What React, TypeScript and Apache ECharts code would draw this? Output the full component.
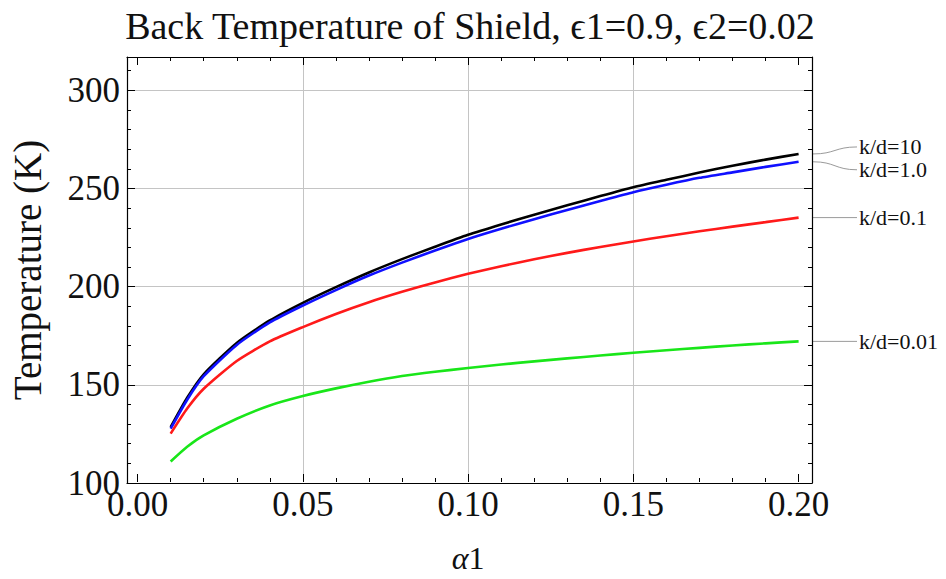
import React, { useEffect, useRef } from 'react';
import * as echarts from 'echarts';

// α1 sample positions and temperatures (K)
const alpha = [0.01, 0.015, 0.02, 0.03, 0.04, 0.05, 0.06, 0.07, 0.08, 0.09, 0.1, 0.11, 0.12, 0.13, 0.14, 0.15, 0.16, 0.17, 0.18, 0.19, 0.2];
const kd10 = [128, 143, 155, 171, 182.5, 191.5, 199.5, 207, 213.8, 220.1, 226.2, 231.5, 236.5, 241.3, 246, 250.5, 254.3, 258, 261.5, 264.6, 267.5];
const kd1 = [127.2, 142, 154, 170, 181.5, 190.1, 198, 205.4, 212, 218.2, 224.1, 229.3, 234.2, 238.9, 243.5, 248, 251.8, 255.3, 258.1, 260.9, 263.5];
const kd01 = [124.7, 137.5, 147.6, 161.8, 171.8, 179.1, 185.8, 191.8, 197.1, 201.9, 206.3, 210.2, 213.7, 217, 220, 222.8, 225.5, 228, 230.4, 232.7, 235];
const kd001 = [110.5, 118, 123.8, 132.3, 139.1, 143.9, 147.8, 151.2, 154.1, 156.3, 158.2, 160, 161.6, 163.1, 164.6, 166, 167.3, 168.5, 169.7, 170.8, 171.8];

const seriesNames = ['k/d=10', 'k/d=1.0', 'k/d=0.1', 'k/d=0.01'];
const seriesColors = ['#000000', '#1010ff', '#ff1a1a', '#19e619'];
const seriesValues = [kd10, kd1, kd01, kd001];
const labelOffsets = [-7, 8, 0, 0];

const X_MIN = 0;
const X_MAX = 0.2;
const Y_MIN = 100;
const Y_MAX = 317;

const FONT = "'Liberation Serif', 'DejaVu Serif', serif";
const TXT = '#111111';

export default function App() {
  const ref = useRef<HTMLDivElement>(null);
  useEffect(() => {
    if (!ref.current) return;
    document.body.style.margin = '0';
    const chart = echarts.init(ref.current, null, { renderer: 'svg' });
    const grids = [
      { left: 137.6, right: 147.4, top: 57, bottom: 96 },
      { left: 123, right: 134, top: 57, bottom: 96 },
    ];
    const series = seriesValues.map((vals, i) => ({
      type: 'line',
      name: seriesNames[i],
      xAxisIndex: 0,
      yAxisIndex: 0,
      data: alpha.map((a, j) => [a, vals[j]]),
      smooth: 0.2,
      showSymbol: false,
      lineStyle: { color: seriesColors[i], width: 2.6 },
      itemStyle: { color: seriesColors[i] },
      z: 3 + i,
    }));
    chart.setOption({
      animation: false,
      backgroundColor: '#ffffff',
      title: {
        text: 'Back Temperature of Shield, ϵ1=0.9, ϵ2=0.02',
        left: 465,
        textAlign: 'center',
        top: 2,
        textStyle: { fontFamily: FONT, fontSize: 38, fontWeight: 'normal', color: TXT },
      },
      grid: grids,
      xAxis: [
        {
          gridIndex: 0,
          type: 'value',
          min: X_MIN,
          max: X_MAX,
          interval: 0.05,
          position: 'bottom',
          axisLine: { show: false },
          axisTick: { show: true, inside: true, length: 8, lineStyle: { color: '#000', width: 1 } },
          minorTick: { show: true, splitNumber: 5, length: 4, lineStyle: { color: '#000', width: 1 } },
          axisLabel: {
            fontFamily: FONT,
            fontSize: 35,
            color: TXT,
            margin: 5,
            formatter: (v: number) => v.toFixed(2),
          },
          splitLine: { show: true, showMinLine: false, showMaxLine: false, lineStyle: { color: '#c4c4c4', width: 1 } },
          name: '{a|α}1',
          nameLocation: 'middle',
          nameGap: 60,
          nameTextStyle: {
            fontFamily: FONT,
            fontSize: 32,
            color: TXT,
            rich: { a: { fontFamily: FONT, fontSize: 32, fontStyle: 'italic', color: TXT } },
          },
        },
        {
          gridIndex: 0,
          type: 'value',
          min: X_MIN,
          max: X_MAX,
          interval: 0.05,
          position: 'top',
          axisLine: { show: false },
          axisTick: { show: true, inside: true, length: 8, lineStyle: { color: '#000', width: 1 } },
          minorTick: { show: true, splitNumber: 5, length: 4, lineStyle: { color: '#000', width: 1 } },
          axisLabel: { show: false },
          splitLine: { show: false },
        },
        {
          gridIndex: 1,
          type: 'value',
          min: 0,
          max: 1,
          position: 'bottom',
          axisLine: { show: true, lineStyle: { color: '#000', width: 1.2 } },
          axisTick: { show: false },
          axisLabel: { show: false },
          splitLine: { show: false },
        },
        {
          gridIndex: 1,
          type: 'value',
          min: 0,
          max: 1,
          position: 'top',
          axisLine: { show: true, lineStyle: { color: '#000', width: 1.2 } },
          axisTick: { show: false },
          axisLabel: { show: false },
          splitLine: { show: false },
        },
      ],
      yAxis: [
        { gridIndex: 0, type: 'value', min: Y_MIN, max: Y_MAX, show: false },
        {
          gridIndex: 1,
          type: 'value',
          min: Y_MIN,
          max: Y_MAX,
          interval: 50,
          position: 'left',
          axisLine: { show: true, lineStyle: { color: '#000', width: 1.2 } },
          axisTick: { show: true, inside: true, length: 8, lineStyle: { color: '#000', width: 1 } },
          axisLabel: { fontFamily: FONT, fontSize: 35, color: TXT, margin: 7, showMaxLabel: false },
          splitLine: { show: true, showMinLine: false, showMaxLine: false, lineStyle: { color: '#c4c4c4', width: 1 } },
          name: 'Temperature (K)',
          nameLocation: 'middle',
          nameGap: 80,
          nameTextStyle: { fontFamily: FONT, fontSize: 39, color: TXT },
        },
        {
          gridIndex: 1,
          type: 'value',
          min: Y_MIN,
          max: Y_MAX,
          interval: 10,
          position: 'left',
          axisLine: { show: false },
          axisTick: { show: true, inside: true, length: 4, lineStyle: { color: '#000', width: 1 } },
          axisLabel: { show: false },
          splitLine: { show: false },
        },
        {
          gridIndex: 1,
          type: 'value',
          min: Y_MIN,
          max: Y_MAX,
          interval: 50,
          position: 'right',
          axisLine: { show: true, lineStyle: { color: '#000', width: 1.2 } },
          axisTick: { show: true, inside: true, length: 8, lineStyle: { color: '#000', width: 1 } },
          axisLabel: { show: false },
          splitLine: { show: false },
        },
        {
          gridIndex: 1,
          type: 'value',
          min: Y_MIN,
          max: Y_MAX,
          interval: 10,
          position: 'right',
          axisLine: { show: false },
          axisTick: { show: true, inside: true, length: 4, lineStyle: { color: '#000', width: 1 } },
          axisLabel: { show: false },
          splitLine: { show: false },
        },
      ],
      series,
    });

    // annotation labels with leader lines, positioned from the axes
    const frameRight = chart.convertToPixel({ xAxisIndex: 2 }, 1) as number;
    const textX = frameRight + 47;
    const graphics: any[] = [];
    seriesValues.forEach((vals, i) => {
      const endVal = vals[vals.length - 1];
      const y0 = chart.convertToPixel({ yAxisIndex: 0 }, endVal) as number;
      const y1 = y0 + labelOffsets[i];
      const x0 = frameRight + 1;
      const x1 = textX - 2;
      if (labelOffsets[i] === 0) {
        graphics.push({
          type: 'line',
          shape: { x1: x0, y1: y0, x2: x1, y2: y1 },
          style: { stroke: '#9a9a9a', lineWidth: 1 },
        });
      } else {
        const mx = (x0 + x1) / 2;
        graphics.push({
          type: 'bezierCurve',
          shape: { x1: x0, y1: y0, cpx1: mx, cpy1: y0, cpx2: mx, cpy2: y1, x2: x1, y2: y1 },
          style: { stroke: '#9a9a9a', lineWidth: 1, fill: 'none' },
        });
      }
      graphics.push({
        type: 'text',
        x: textX,
        y: y1,
        style: {
          text: seriesNames[i],
          fontFamily: FONT,
          fontSize: 22,
          fill: TXT,
          textAlign: 'left',
          textVerticalAlign: 'middle',
        },
      });
    });
    chart.setOption({ graphic: graphics });

    return () => chart.dispose();
  }, []);
  return <div ref={ref} style={{ position: 'fixed', left: 0, top: 0, width: 946, height: 579 }} />;
}
